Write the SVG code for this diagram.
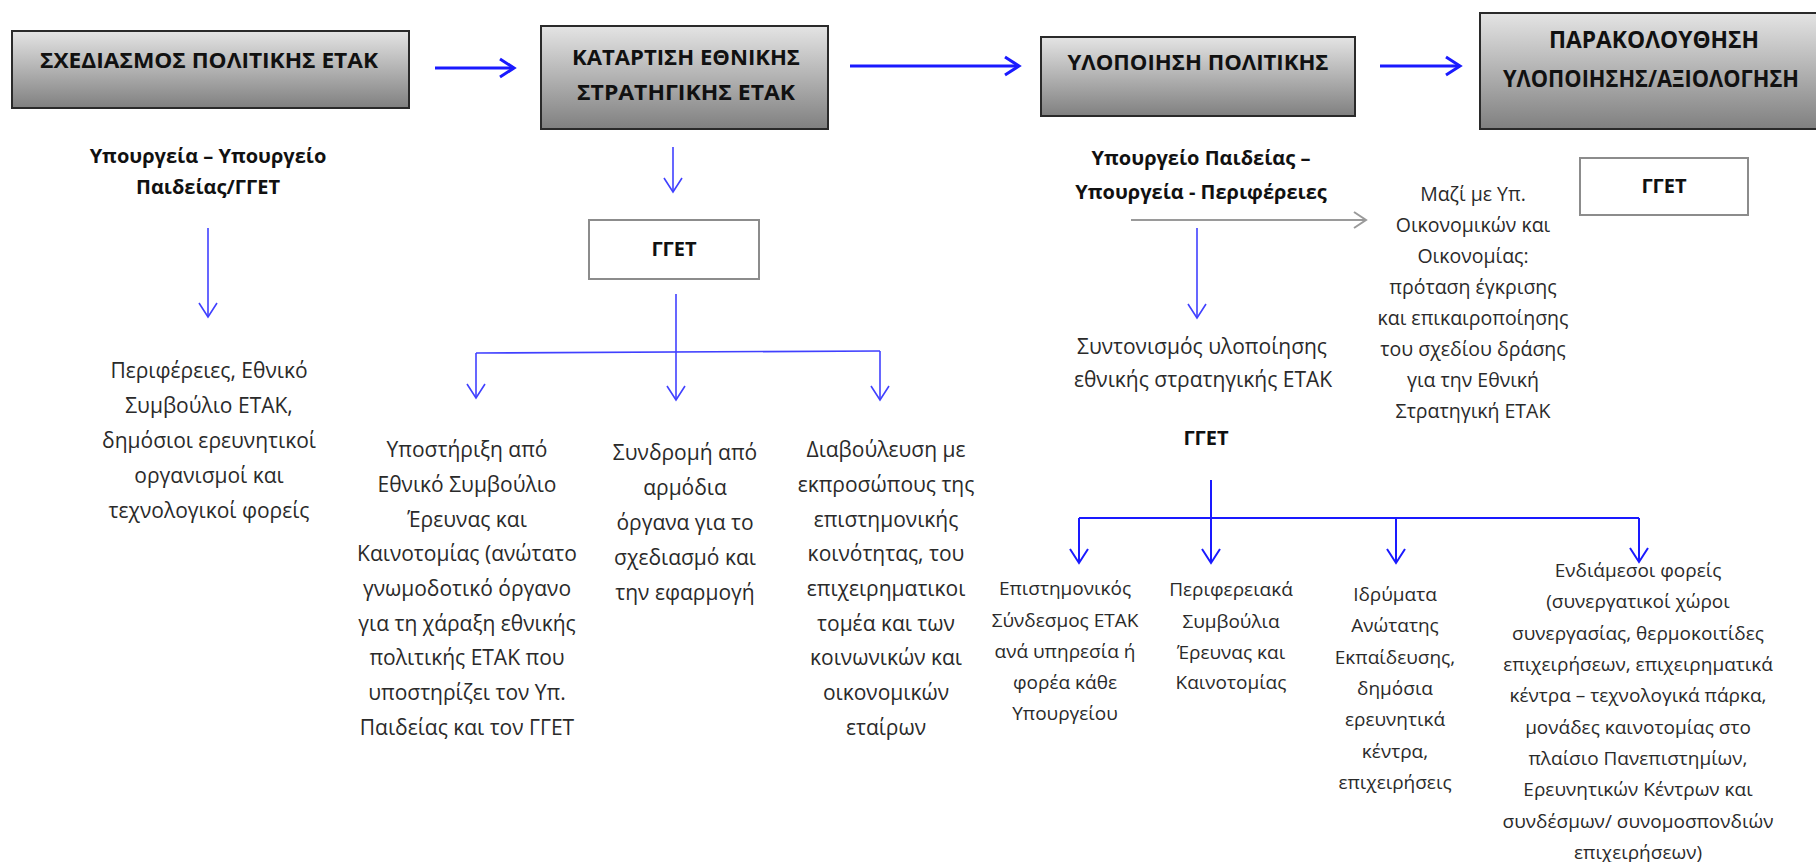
<svg xmlns="http://www.w3.org/2000/svg" width="1816" height="862" viewBox="0 0 1816 862">
<style>
  .bg { fill: #ffffff; }
  .stage { stroke: #2a2a2a; stroke-width: 2; fill: url(#stageGrad); }
  .wbox { fill: #ffffff; stroke: #8c8c8c; stroke-width: 2; }
  .title { font-family: "Open Sans", "Liberation Sans", sans-serif; font-weight: bold; font-size: 22px; fill: #111111; text-anchor: middle; }
  .title4 { font-family: "Open Sans", "Liberation Sans", sans-serif; font-weight: bold; font-size: 24px; fill: #111111; text-anchor: middle; }
  .bold { font-family: "Open Sans", "Liberation Sans", sans-serif; font-weight: bold; font-size: 20px; fill: #111111; text-anchor: middle; }
  .body { font-family: "Open Sans", "Liberation Sans", sans-serif; font-size: 21px; fill: #2a2a2a; text-anchor: middle; }
  .small { font-family: "Open Sans", "Liberation Sans", sans-serif; font-size: 19px; fill: #2a2a2a; text-anchor: middle; }
  .small2 { font-family: "Open Sans", "Liberation Sans", sans-serif; font-size: 19.5px; fill: #2a2a2a; text-anchor: middle; }
  .main { stroke: #1a1aff; stroke-width: 3; fill: none; marker-end: url(#headMain); }
  .thin { stroke: #4040ff; stroke-width: 1.6; fill: none; marker-end: url(#headThin); }
  .bar { stroke: #4040ff; stroke-width: 1.6; fill: none; }
  .thin2 { stroke: #1a1aff; stroke-width: 2; fill: none; marker-end: url(#headThin2); }
  .bar2 { stroke: #1a1aff; stroke-width: 2; fill: none; }
  .grey { stroke: #9a9a9a; stroke-width: 2; fill: none; marker-end: url(#headGrey); }
</style>
<defs>
  <linearGradient id="stageGrad" x1="0" y1="0" x2="0" y2="1">
    <stop offset="0" stop-color="#e4e4e4"/>
    <stop offset="1" stop-color="#808080"/>
  </linearGradient>
  <marker id="headMain" markerUnits="userSpaceOnUse" markerWidth="24" markerHeight="24" refX="20" refY="12" orient="auto" overflow="visible">
    <path d="M6,3 L20,12 L6,21" fill="none" stroke="#1a1aff" stroke-width="3"/>
  </marker>
  <marker id="headThin" markerUnits="userSpaceOnUse" markerWidth="24" markerHeight="24" refX="20" refY="12" orient="auto" overflow="visible">
    <path d="M6,3 L20,12 L6,21" fill="none" stroke="#4040ff" stroke-width="1.6"/>
  </marker>
  <marker id="headThin2" markerUnits="userSpaceOnUse" markerWidth="24" markerHeight="24" refX="20" refY="12" orient="auto" overflow="visible">
    <path d="M6,3 L20,12 L6,21" fill="none" stroke="#1a1aff" stroke-width="2"/>
  </marker>
  <marker id="headGrey" markerUnits="userSpaceOnUse" markerWidth="24" markerHeight="24" refX="20" refY="12" orient="auto" overflow="visible">
    <path d="M8,4 L20,12 L8,20" fill="none" stroke="#9a9a9a" stroke-width="2"/>
  </marker>
</defs>
<rect class="bg" x="0" y="0" width="1816" height="862"/>

<g id="connectors">
  <line class="main" x1="435" y1="68" x2="514" y2="68"/>
  <line class="main" x1="850" y1="66" x2="1019" y2="66"/>
  <line class="main" x1="1380" y1="66" x2="1460" y2="66"/>
  <line class="thin" x1="208" y1="228" x2="208" y2="317"/>
  <line class="thin" x1="673" y1="147" x2="673" y2="192"/>
  <line class="thin" x1="676" y1="294" x2="676" y2="400"/>
  <polyline class="bar" points="476,353 880,351"/>
  <line class="thin" x1="476" y1="353" x2="476" y2="398"/>
  <line class="thin" x1="880" y1="351" x2="880" y2="400"/>
  <line class="grey" x1="1131" y1="220" x2="1366" y2="220"/>
  <line class="thin" x1="1197" y1="228" x2="1197" y2="318"/>
  <line class="thin2" x1="1211" y1="480" x2="1211" y2="563"/>
  <polyline class="bar2" points="1079,518 1639,518"/>
  <line class="thin2" x1="1079" y1="518" x2="1079" y2="563"/>
  <line class="thin2" x1="1396" y1="518" x2="1396" y2="563"/>
  <line class="thin2" x1="1639" y1="518" x2="1639" y2="562"/>
</g>

<g id="stage1">
  <rect class="stage" x="12" y="31" width="397" height="77"/>
  <text class="title" x="209" y="68" textLength="338" lengthAdjust="spacingAndGlyphs">ΣΧΕΔΙΑΣΜΟΣ ΠΟΛΙΤΙΚΗΣ ΕΤΑΚ</text>
</g>
<g id="stage2">
  <rect class="stage" x="541" y="26" width="287" height="103"/>
  <text class="title" x="686" y="65" textLength="228" lengthAdjust="spacingAndGlyphs">ΚΑΤΑΡΤΙΣΗ ΕΘΝΙΚΗΣ</text>
  <text class="title" x="686" y="100" textLength="218" lengthAdjust="spacingAndGlyphs">ΣΤΡΑΤΗΓΙΚΗΣ ΕΤΑΚ</text>
</g>
<g id="stage3">
  <rect class="stage" x="1041" y="37" width="314" height="79"/>
  <text class="title" x="1198" y="70" textLength="261" lengthAdjust="spacingAndGlyphs">ΥΛΟΠΟΙΗΣΗ ΠΟΛΙΤΙΚΗΣ</text>
</g>
<g id="stage4">
  <rect class="stage" x="1480" y="13" width="345" height="116"/>
  <text class="title4" x="1654" y="48" textLength="210" lengthAdjust="spacingAndGlyphs">ΠΑΡΑΚΟΛΟΥΘΗΣΗ</text>
  <text class="title4" x="1651" y="87" textLength="296" lengthAdjust="spacingAndGlyphs">ΥΛΟΠΟΙΗΣΗΣ/ΑΞΙΟΛΟΓΗΣΗ</text>
</g>

<g id="ministries1">
  <text class="bold" x="208" y="163">Υπουργεία – Υπουργείο</text>
  <text class="bold" x="208" y="194">Παιδείας/ΓΓΕΤ</text>
</g>
<g id="regions1">
  <text class="body" x="209" y="378">Περιφέρειες, Εθνικό</text>
  <text class="body" x="209" y="413">Συμβούλιο ΕΤΑΚ,</text>
  <text class="body" x="209" y="448">δημόσιοι ερευνητικοί</text>
  <text class="body" x="209" y="483">οργανισμοί και</text>
  <text class="body" x="209" y="518">τεχνολογικοί φορείς</text>
</g>

<g id="ggetMid">
  <rect class="wbox" x="589" y="220" width="170" height="59"/>
  <text class="bold" x="674" y="256">ΓΓΕΤ</text>
</g>
<g id="support">
  <text class="body" x="467" y="457">Υποστήριξη από</text>
  <text class="body" x="467" y="492">Εθνικό Συμβούλιο</text>
  <text class="body" x="467" y="527">Έρευνας και</text>
  <text class="body" x="467" y="561">Καινοτομίας (ανώτατο</text>
  <text class="body" x="467" y="596">γνωμοδοτικό όργανο</text>
  <text class="body" x="467" y="631">για τη χάραξη εθνικής</text>
  <text class="body" x="467" y="665">πολιτικής ΕΤΑΚ που</text>
  <text class="body" x="467" y="700">υποστηρίζει τον Υπ.</text>
  <text class="body" x="467" y="735">Παιδείας και τον ΓΓΕΤ</text>
</g>
<g id="assist">
  <text class="body" x="685" y="460">Συνδρομή από</text>
  <text class="body" x="685" y="495">αρμόδια</text>
  <text class="body" x="685" y="530">όργανα για το</text>
  <text class="body" x="685" y="565">σχεδιασμό και</text>
  <text class="body" x="685" y="600">την εφαρμογή</text>
</g>
<g id="consult">
  <text class="body" x="886" y="457">Διαβούλευση με</text>
  <text class="body" x="886" y="492">εκπροσώπους της</text>
  <text class="body" x="886" y="527">επιστημονικής</text>
  <text class="body" x="886" y="561">κοινότητας, του</text>
  <text class="body" x="886" y="596">επιχειρηματικοι</text>
  <text class="body" x="886" y="631">τομέα και των</text>
  <text class="body" x="886" y="665">κοινωνικών και</text>
  <text class="body" x="886" y="700">οικονομικών</text>
  <text class="body" x="886" y="735">εταίρων</text>
</g>

<g id="ministries3">
  <text class="bold" x="1201" y="165">Υπουργείο Παιδείας –</text>
  <text class="bold" x="1201" y="199">Υπουργεία - Περιφέρειες</text>
</g>
<g id="coordination">
  <text class="body" x="1202" y="354">Συντονισμός υλοποίησης</text>
  <text class="body" x="1203" y="387">εθνικής στρατηγικής ΕΤΑΚ</text>
</g>
<g id="finance">
  <text class="small2" x="1473" y="201">Μαζί με Υπ.</text>
  <text class="small2" x="1473" y="232">Οικονομικών και</text>
  <text class="small2" x="1473" y="263">Οικονομίας:</text>
  <text class="small2" x="1473" y="294">πρόταση έγκρισης</text>
  <text class="small2" x="1473" y="325">και επικαιροποίησης</text>
  <text class="small2" x="1473" y="356">του σχεδίου δράσης</text>
  <text class="small2" x="1473" y="387">για την Εθνική</text>
  <text class="small2" x="1473" y="418">Στρατηγική ΕΤΑΚ</text>
</g>
<g id="ggetRight">
  <text class="bold" x="1206" y="445">ΓΓΕΤ</text>
</g>
<g id="ggetMonitor">
  <rect class="wbox" x="1580" y="158" width="168" height="57"/>
  <text class="bold" x="1664" y="193">ΓΓΕΤ</text>
</g>

<g id="scientific">
  <text class="small" x="1065" y="595">Επιστημονικός</text>
  <text class="small" x="1065" y="627">Σύνδεσμος ΕΤΑΚ</text>
  <text class="small" x="1065" y="658">ανά υπηρεσία ή</text>
  <text class="small" x="1065" y="689">φορέα κάθε</text>
  <text class="small" x="1065" y="720">Υπουργείου</text>
</g>
<g id="regional">
  <text class="small" x="1231" y="596">Περιφερειακά</text>
  <text class="small" x="1231" y="628">Συμβούλια</text>
  <text class="small" x="1231" y="659">Έρευνας και</text>
  <text class="small" x="1231" y="689">Καινοτομίας</text>
</g>
<g id="institutions">
  <text class="small" x="1395" y="601">Ιδρύματα</text>
  <text class="small" x="1395" y="632">Ανώτατης</text>
  <text class="small" x="1395" y="664">Εκπαίδευσης,</text>
  <text class="small" x="1395" y="695">δημόσια</text>
  <text class="small" x="1395" y="726">ερευνητικά</text>
  <text class="small" x="1395" y="758">κέντρα,</text>
  <text class="small" x="1395" y="789">επιχειρήσεις</text>
</g>
<g id="intermediate">
  <text class="small" x="1638" y="577">Ενδιάμεσοι φορείς</text>
  <text class="small" x="1638" y="608">(συνεργατικοί χώροι</text>
  <text class="small" x="1638" y="640">συνεργασίας, θερμοκοιτίδες</text>
  <text class="small" x="1638" y="671">επιχειρήσεων, επιχειρηματικά</text>
  <text class="small" x="1638" y="702">κέντρα – τεχνολογικά πάρκα,</text>
  <text class="small" x="1638" y="734">μονάδες καινοτομίας στο</text>
  <text class="small" x="1638" y="765">πλαίσιο Πανεπιστημίων,</text>
  <text class="small" x="1638" y="796">Ερευνητικών Κέντρων και</text>
  <text class="small" x="1638" y="828">συνδέσμων/ συνομοσπονδιών</text>
  <text class="small" x="1638" y="859">επιχειρήσεων)</text>
</g>
</svg>
